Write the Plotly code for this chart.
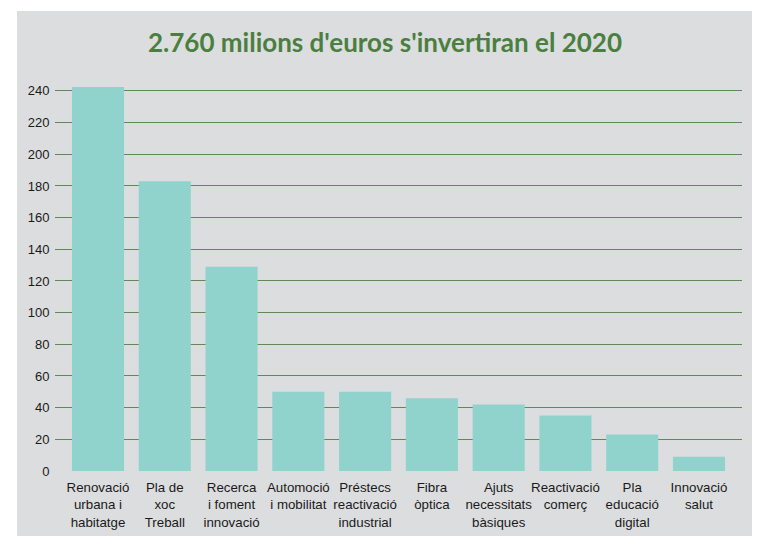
import plotly.graph_objects as go

categories = [
    "Renovació<br>urbana i<br>habitatge",
    "Pla de<br>xoc<br>Treball",
    "Recerca<br>i foment<br>innovació",
    "Automoció<br>i mobilitat",
    "Préstecs<br>reactivació<br>industrial",
    "Fibra<br>òptica",
    "Ajuts<br>necessitats<br>bàsiques",
    "Reactivació<br>comerç",
    "Pla<br>educació<br>digital",
    "Innovació<br>salut",
]
values = [242.5, 183, 129, 50, 50, 46, 42, 35, 23, 9]
y_ticks = list(range(0, 241, 20))
title_text = "2.760 milions d'euros s'invertiran el 2020"

W, H = 760, 536
L, R, T, B = 47, 26, 75, 73
pw, ph = W - L - R, H - T - B

fig = go.Figure()
fig.add_trace(go.Bar(
    x=list(range(len(categories))), y=values,
    marker=dict(color="#90d3cd", line=dict(width=0)),
    width=0.78,
    hoverinfo="skip",
))

fig.add_shape(type="rect", xref="paper", yref="paper",
              x0=(9 - L) / pw, x1=(744 - L) / pw,
              y0=(T + ph - 560) / ph, y1=(T + ph - 3) / ph,
              fillcolor="#dcdddf", line=dict(width=0), layer="below")

x_font = dict(family="Liberation Sans, Arial", size=13.3, color="#1a1a1a")
y_font = dict(family="Liberation Sans, Arial", size=13, color="#1a1a1a")
fig.update_layout(
    width=W, height=H,
    paper_bgcolor="white", plot_bgcolor="rgba(0,0,0,0)",
    margin=dict(l=L, r=R, t=T, b=B),
    showlegend=False,
    title=dict(text="<b>" + title_text + "</b>", xref="container", yref="container",
               x=377 / W, xanchor="center", y=1 - 35 / H, yanchor="middle",
               font=dict(family="Lato, Noto Sans", size=26, color="#4a7f3f")),
    xaxis=dict(range=[-0.644, 9.644], tickmode="array", tickvals=list(range(len(categories))),
               ticktext=categories, showgrid=False, zeroline=False, showline=False,
               tickfont=x_font, ticks="outside", ticklen=4, tickcolor="rgba(0,0,0,0)",
               tickangle=0, automargin=False),
    yaxis=dict(range=[0, 245], tickmode="array", tickvals=y_ticks, ticktext=[str(v) for v in y_ticks],
               showgrid=True, gridcolor="#5e8a58", gridwidth=1.3, zeroline=False, showline=False,
               tickfont=y_font, ticks="outside", ticklen=2, tickcolor="rgba(0,0,0,0)",
               automargin=False),
)
fig.write_html("out.html")
